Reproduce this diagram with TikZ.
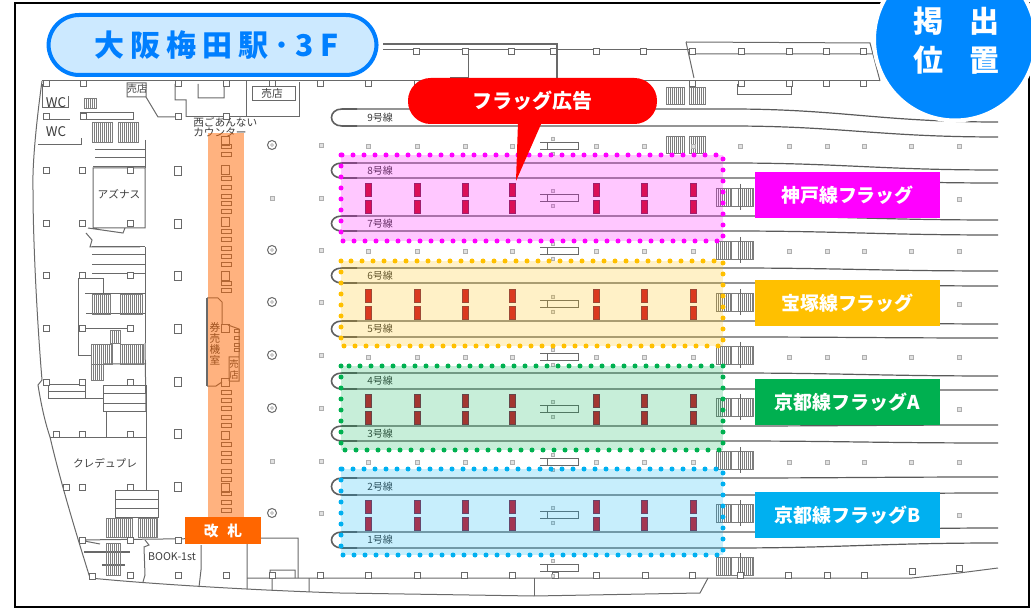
\documentclass[tikz,border=0pt]{standalone}
\usepackage{fontspec}
\setmainfont{Noto Sans CJK JP}
\newfontfamily\titlefont[LetterSpace=20]{Noto Sans CJK JP}
\definecolor{zonepink}{RGB}{255,0,255}
\definecolor{zoneamber}{RGB}{255,192,0}
\definecolor{zonegreen}{RGB}{0,176,80}
\definecolor{zoneblue}{RGB}{0,176,240}
\definecolor{headblue}{RGB}{0,127,255}
\definecolor{badgeblue}{RGB}{0,136,255}
\definecolor{gateorange}{RGB}{255,102,0}
\tikzset{
  wall/.style={draw={rgb, 255:red, 105; green, 105; blue, 105 }, line width=0.75pt},
  railline/.style={draw={rgb, 255:red, 90; green, 90; blue, 90 }, line width=0.9pt},
  railloop/.style={draw={rgb, 255:red, 95; green, 95; blue, 95 }, line width=1.2pt},
  tread/.style={draw={rgb, 255:red, 125; green, 125; blue, 125 }, line width=0.6pt},
  pillarbox/.style={wall, fill=white},
  stud/.style={draw={rgb, 255:red, 175; green, 175; blue, 175 }, fill={rgb, 255:red, 225; green, 225; blue, 225 }, line width=0.5pt},
  flagbar/.style={fill={rgb, 255:red, 210; green, 20; blue, 40 }, draw={rgb, 255:red, 130; green, 40; blue, 70 }, line width=0.4pt},
  zonebox/.style={fill=#1, fill opacity=0.22, draw=#1, draw opacity=1, line width=3.75pt, line cap=round, dash pattern=on 0pt off 8.25pt},
  flagtag/.style={fill=#1, text=white, inner sep=0pt, minimum width=138.75pt, minimum height=34.5pt, font=\fontsize{14.2}{15}\selectfont\bfseries},
  plantext/.style={inner sep=0pt, text={rgb, 255:red, 60; green, 60; blue, 60 }, font=\fontsize{8}{9}\selectfont},
}
% treads of a staircase: x1, y1, x2, y2
\newcommand{\treads}[4]{%
  \pgfmathsetmacro{\nextx}{#1+2}
  \foreach \k in {#1,\nextx,...,#3} {\draw [tread] (\k,#2) -- (\k,#4);}
  \draw [tread] (#1,#2) rectangle (#3,#4);
}
\begin{document}
\begin{tikzpicture}[x=0.75pt,y=0.75pt,yscale=-1,xscale=1]
\useasboundingbox (0,0) rectangle (1031,609);

%Straight Lines: outer walls
\draw [wall] (42,81) .. controls (38,110) and (32,160) .. (33,190) .. controls (33,240) and (37,320) .. (42,380) -- (38,385) .. controls (42,410) and (46,425) .. (50,437) .. controls (60,480) and (75,530) .. (90,578) .. controls (150,584) and (250,590) .. (340,593) -- (534,596) -- (700,593) -- (708,578);
\draw [wall] (42,81) -- (880,81);
\draw [wall] (247,578) -- (912,578) -- (959,573) -- (998,568);
\draw [wall] (534,578) -- (534,596);
\draw [wall] (383,50) -- (692,50) (468,50) -- (468,78) -- (450,78);
\draw [wall,line width=1.4pt] (383,44) -- (557,44) -- (557,81);
\draw [wall] (686,42) -- (694,78) (686,42) -- (870,43) -- (880,81) (690,54) -- (873,54);
\draw [wall] (737,84) -- (737,95) -- (791,95) -- (791,84);

%Straight Lines: west side rooms
\draw [wall] (42,84) -- (42,108) -- (68,108) -- (68,96) (45,120) -- (70,120) (38,145) -- (81,145) -- (81,138);
\draw [wall] (80,113) rectangle (133,120) (95,150) -- (145,150) (95,158) -- (145,158) (93,167) -- (145,167) (145,140) -- (145,168);
\draw [wall] (93,168) rectangle (145,228) (125,228) -- (123,233) -- (88,228) (86,233) -- (92,240) -- (90,247) -- (140,247);
\draw [wall] (92,247) -- (145,247) (92,255) -- (145,255) (92,265) -- (145,265) (92,274) -- (145,274) (145,247) -- (145,343);
\draw [wall] (78,356) -- (78,279) -- (103,279) -- (103,293) (85,294) -- (145,294) (86,314) -- (145,314) (82,329) -- (130,329) (78,356) -- (91,356);
\draw [wall] (145,343) -- (146,411) (103,364) -- (146,364);
\draw [wall] (103,385) rectangle (146,411) (103,393) -- (146,393) (103,403) -- (146,403);
\draw [wall] (48,384) rectangle (85,398) (48,391) -- (85,391) (85,398) -- (103,398) (106,411) -- (106,437) (50,437) -- (146,437) (146,411) -- (146,490);
\draw [wall] (115,490) rectangle (158,517) (115,499) -- (158,499) (115,508) -- (158,508);
\draw [wall] (79,540) -- (100,544) (79,540) -- (247,538) (247,538) -- (247,589) (247,538) -- (298,538) -- (298,578) (272,578) -- (272,590) (309,578) -- (309,592) (270,578) -- (270,570) -- (295,570) -- (295,578);
\draw [wall,line width=1.4pt] (84,552) -- (130,552) (102,565) -- (125,565);
\draw [wall] (145,540) -- (149,545) -- (144,547) -- (145,575) -- (143,582) (201,545) -- (201,570) -- (199,587);

%Straight Lines: rooms along the top
\draw [wall] (127,83) rectangle (146,97) (146,97) -- (158,117) -- (175,117) (175,84) -- (175,100) -- (186,100) -- (186,117) (198,84) -- (198,98) -- (224,98) -- (224,84);
\draw [wall] (246,81) -- (246,117) -- (299,117) -- (299,82) (186,117) -- (246,117) (252,87) rectangle (295,101);

%Shape: staircases
\treads{84}{98}{96}{108}
\treads{92}{122}{112}{142}
\treads{118}{122}{138}{142}
\treads{92}{294}{110}{314}
\treads{120}{294}{142}{314}
\treads{110}{330}{120}{343}
\treads{91}{344}{112}{364}
\treads{120}{344}{143}{364}
\treads{91}{364}{103}{380}
\treads{106}{518}{132}{537}
\treads{138}{518}{157}{537}
\treads{106}{543}{120}{575}
\treads{666}{87}{684}{104}
\treads{689}{87}{705}{104}
\treads{666}{136}{684}{153}
\treads{689}{136}{705}{153}
\foreach \yb in {188,241,293,346,398,451,504,557} {
  \treads{716}{\yb}{731}{\yb+18}
  \treads{738}{\yb}{753}{\yb+18}
  \draw [tread] (731,\yb) -- (738,\yb) (731,\yb+18) -- (738,\yb+18);
  \draw [wall] (740,\yb-4) -- (740,\yb+22);
}

%Shape: pillars
\foreach \px/\py in {46/84,83/84,178/84,226/84,272/84,320/84,46/117,83/117,178/117,226/117,
  46/171,82/171,130/171,46/224,82/224,130/224,46/276,82/276,130/276,46/329,82/329,130/329,
  46/382,82/382,130/382,56/434,82/434,130/434,66/487,82/487,130/487,82/540,130/540,178/540,
  92/576,130/575,178/575,226/575,272/575,320/575,
  416/52,465/52,511/52,553/52,596/52,643/52,692/52,741/52,789/52,826/52,863/52,
  368/84,417/84,692/84,741/84,789/84,826/84,863/84,
  368/575,417/575,464/575,512/575,555/575,596/575,645/575,692/575,740/575,788/575,827/575,864/575,912/571,959/568}
  {\draw [pillarbox] (\px-3,\py-3) rectangle (\px+3,\py+3);}
\foreach \py in {171,224,276,329,382,434,487} {\draw [pillarbox] (174.5,\py-4.5) rectangle (181.5,\py+4.5);}

%Shape: studs and ringed studs
\foreach \px in {368,417,465,512,596,644,693} {\foreach \py in {146,251,357,462} {\draw [stud] (\px-2,\py-2) rectangle (\px+2,\py+2);}}
\foreach \px in {740,789,827,864,911,959} {\draw [stud] (\px-2,146-2) rectangle (\px+2,146+2);}
\foreach \py in {251,357,462} {\foreach \px in {789,827,864,911,959} {\draw [stud] (\px-2,\py-2) rectangle (\px+2,\py+2);}}
\foreach \py in {199,304,409,515} {\draw [stud] (959-2,\py-2) rectangle (959+2,\py+2);}
\foreach \py in {145,198,250,302,355,408,461,513} {\draw [stud] (321-2,\py-2) rectangle (321+2,\py+2);}
\foreach \py in {198,461} {\draw [stud] (272-2,\py-2) rectangle (272+2,\py+2);}
\foreach \py in {145,250,302,355,408,513} {
  \draw [wall,fill=white] (272,\py) circle (4.5);
  \draw [stud] (272,\py) circle (1.5);
}

%Straight Lines: tracks, both edges of each with its loop at the west end
\foreach \ya/\yb/\yc/\yd/\trk in {109/126/122/137/9,163/178/170/183/8,216/231/220/235/7,268/283/271/286/6,321/337/324/338/5,373/389/376/390/4,426/441/425/443/3,478/495/477/493/2,532/548/528/543/1} {
  \draw [railline] (345,\ya) -- (730,\ya) .. controls (840,\ya) and (880,\yc) .. (998,\yc);
  \draw [railline] (345,\yb) -- (730,\yb) .. controls (840,\yb) and (880,\yd) .. (998,\yd);
  \draw [railloop] (357,\ya) -- (342,\ya) .. controls (328,\ya) and (328,\yb) .. (342,\yb) -- (357,\yb);
  \node [plantext,anchor=west,font=\fontsize{7.5}{8}\selectfont] (track\trk) at (367,{(\ya+\yb)/2}) {\trk 号線};
}

%Shape: booths on the platform axis
\foreach \yc in {146,198.5,251,304,357,409,462,515,568} {
  \draw [wall] (540,\yc-3.5) -- (547,\yc-3.5) (540,\yc+3.5) -- (547,\yc+3.5) (547,\yc-3.5) rectangle (578,\yc+3.5);
  \draw [stud] (553-1.5,\yc-9) rectangle (553+1.5,\yc-6) (553-1.5,\yc+6) rectangle (553+1.5,\yc+9);
}

%Shape: flags
\foreach \yf in {183,289,394,500} {
  \foreach \px in {368,417,465,512,596,644,693} {
    \draw [flagbar] (\px-3,\yf) rectangle (\px+3,\yf+13);
    \draw [flagbar] (\px-3,\yf+17) rectangle (\px+3,\yf+30);
  }
}

%Shape: gate line and ticket room, under the orange band
\foreach \yg in {147,155,179,188,197,204,212,232,240,249,257,265,284,291,392,400,408,417,425,444,453,461,471,479,493,502,510} {
  \draw [wall] (221,\yg-2) rectangle (231,\yg+2);
}
\foreach \ya/\yb in {137/146,166/175,218/227,272/281,325/333,378/386,431/439,483/492} {
  \draw [wall] (221.5,\ya) rectangle (229.5,\yb);
}
\draw [wall,line width=1.3pt] (207,298) -- (207,386);
\draw [wall] (207,298) -- (218,298) -- (222,302) -- (222,325) (228,325) -- (239,329) -- (239,381) -- (229,381) (229,381) -- (229,357) -- (239,357) (207,386) -- (216,386) -- (222,382);
\foreach \yg in {331,338,345,350} {\draw [wall] (234,\yg-1.5) rectangle (239,\yg+1.5);}
\node [plantext,font=\fontsize{8}{8.3}\selectfont,align=center] (ticketroom) at (215,344) {券\\売\\機\\室};
\node [plantext,font=\fontsize{7}{8.25}\selectfont,align=center] (kiosksouth) at (234,369) {売\\店};

% Text Node
\node [plantext,font=\fontsize{10}{10}\selectfont] (wcupper) at (56,103) {WC};
\node [plantext,font=\fontsize{10}{10}\selectfont] (wclower) at (56,132) {WC};
\node [plantext,font=\fontsize{7.5}{8}\selectfont] (kioskwest) at (137,89) {売店};
\node [plantext] (kioskeast) at (272,93) {売店};
\node [plantext,anchor=west] (infoupper) at (193,122) {西ごあんない};
\node [plantext,anchor=west] (infolower) at (193,132) {カウンター};
\node [plantext] (aznas) at (119,194) {アズナス};
\node [plantext] (credu) at (105,463) {クレデュプレ};
\node [plantext] (bookshop) at (172,557) {BOOK-1st};

%Shape: orange band and the coloured zones
\fill [gateorange,fill opacity=0.5] (208,133) rectangle (244,517);
\path [zonebox=zonepink] (341,155) rectangle (723,241);
\path [zonebox=zoneamber] (341,261) rectangle (723,346);
\path [zonebox=zonegreen] (341,366) rectangle (723,450);
\path [zonebox=zoneblue] (341,469) rectangle (723,555);

% Text Node
\node [fill=gateorange,text=white,inner sep=0pt,minimum width=57pt,minimum height=20.25pt,font=\fontsize{11}{11}\selectfont\bfseries] (gate) at (223,530.5) {改\hspace{0.6em}札};
\node [flagtag=zonepink] (tagkobe) at (847.5,195) {神戸線フラッグ};
\node [flagtag=zoneamber] (tagtakarazuka) at (847.5,303) {宝塚線フラッグ};
\node [flagtag=zonegreen] (tagkyotoa) at (847.5,402) {京都線フラッグA};
\node [flagtag=zoneblue] (tagkyotob) at (847.5,515) {京都線フラッグB};

%Shape: callout
\coordinate (adtip) at (516,181);
\node [fill=red,text=white,rounded corners=17pt,inner sep=0pt,minimum width=186.75pt,minimum height=34.5pt,font=\fontsize{15}{15}\selectfont\bfseries] (flagad) at (532.5,101) {フラッグ広告};
\fill [red] (518,122) -- (adtip) -- (542,122) -- cycle;

%Shape: heading
\node [draw=headblue,line width=3pt,fill={rgb, 255:red, 204; green, 233; blue, 255 },rounded corners=23pt,inner sep=0pt,minimum width=246pt,minimum height=45pt,text=headblue,font=\fontsize{22.5}{22.5}\titlefont\bfseries] (heading) at (212.5,45) {\hspace*{6pt}大阪梅田駅･3F};

%Shape: frame and round badge
\draw [line width=1.9pt] (15,3) rectangle (1029,607);
\node [circle,fill=badgeblue,draw=white,line width=3pt,inner sep=0pt,outer sep=0pt,minimum size=121.5pt] (badge) at (955,39.5) {};
\node [text=white,inner sep=0pt,align=center,font=\fontsize{22.5}{29.25}\selectfont\bfseries] (badgetext) at (956.5,40.5) {掲\hspace{0.9em}出\\位\hspace{0.9em}置};
\end{tikzpicture}
\end{document}
